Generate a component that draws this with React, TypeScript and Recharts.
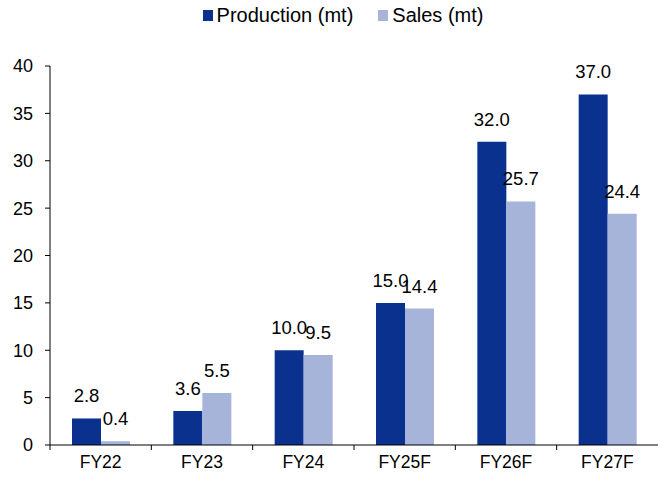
import React from 'react';
import { BarChart, Bar, XAxis, YAxis, Legend, LabelList } from 'recharts';

const categories = ['FY22', 'FY23', 'FY24', 'FY25F', 'FY26F', 'FY27F'];
const production = [2.8, 3.6, 10.0, 15.0, 32.0, 37.0];
const sales = [0.4, 5.5, 9.5, 14.4, 25.7, 24.4];
const yTicks = [0, 5, 10, 15, 20, 25, 30, 35, 40];

const PROD_COLOR = '#0B318F';
const SALES_COLOR = '#A7B4DA';
const FONT = '"Liberation Sans", Arial, sans-serif';

const data = categories.map((c, i) => ({ name: c, production: production[i], sales: sales[i] }));

// category label plus a tick mark on the left boundary of each band
const CategoryTick = (props: any) => {
  const { x, y, payload, width, visibleTicksCount } = props;
  const band = width / visibleTicksCount;
  const left = x - band / 2;
  return (
    <g>
      <line x1={left} y1={y - 8} x2={left} y2={y - 3} stroke="#000" />
      <text x={x} y={y + 15} textAnchor="middle" fontSize={17.5} fill="#000" fontFamily={FONT}>
        {payload.value}
      </text>
    </g>
  );
};

const LegendContent = () => (
  <div style={{ display: 'flex', justifyContent: 'center', gap: 25, paddingLeft: 28, fontFamily: FONT, fontSize: 20, color: '#000' }}>
    {[
      { label: 'Production (mt)', color: PROD_COLOR },
      { label: 'Sales (mt)', color: SALES_COLOR },
    ].map((item) => (
      <div key={item.label} style={{ display: 'flex', alignItems: 'center', gap: 4 }}>
        <span style={{ width: 10, height: 11, background: item.color, display: 'inline-block' }} />
        <span>{item.label}</span>
      </div>
    ))}
  </div>
);

const fmt = (v: any) => Number(v).toFixed(1);
const labelStyle = { fontSize: 18.5, fill: '#000', fontFamily: FONT };

const App = () => (
  <div style={{ position: 'absolute', left: 0, top: 0 }}>
    <BarChart
      width={658}
      height={479}
      data={data}
      margin={{ top: 20, right: 0, bottom: 8, left: 0 }}
      barGap={0}
      barSize={29}
    >
      <Legend verticalAlign="top" align="center" height={46} content={<LegendContent />} wrapperStyle={{ top: 4 }} />
      <XAxis
        dataKey="name"
        axisLine={{ stroke: '#000' }}
        tickLine={false}
        tick={<CategoryTick />}
        interval={0}
        height={26}
      />
      <YAxis
        domain={[0, 40]}
        ticks={yTicks}
        width={50}
        axisLine={{ stroke: '#000' }}
        tickLine={{ stroke: '#000' }}
        tickSize={5}
        tickMargin={12}
        tick={{ fontSize: 18, fill: '#000', fontFamily: FONT }}
      />
      <Bar dataKey="production" fill={PROD_COLOR} isAnimationActive={false}>
        <LabelList dataKey="production" position="top" offset={16} formatter={fmt} style={labelStyle} />
      </Bar>
      <Bar dataKey="sales" fill={SALES_COLOR} isAnimationActive={false}>
        <LabelList dataKey="sales" position="top" offset={16} formatter={fmt} style={labelStyle} />
      </Bar>
    </BarChart>
  </div>
);

export default App;
